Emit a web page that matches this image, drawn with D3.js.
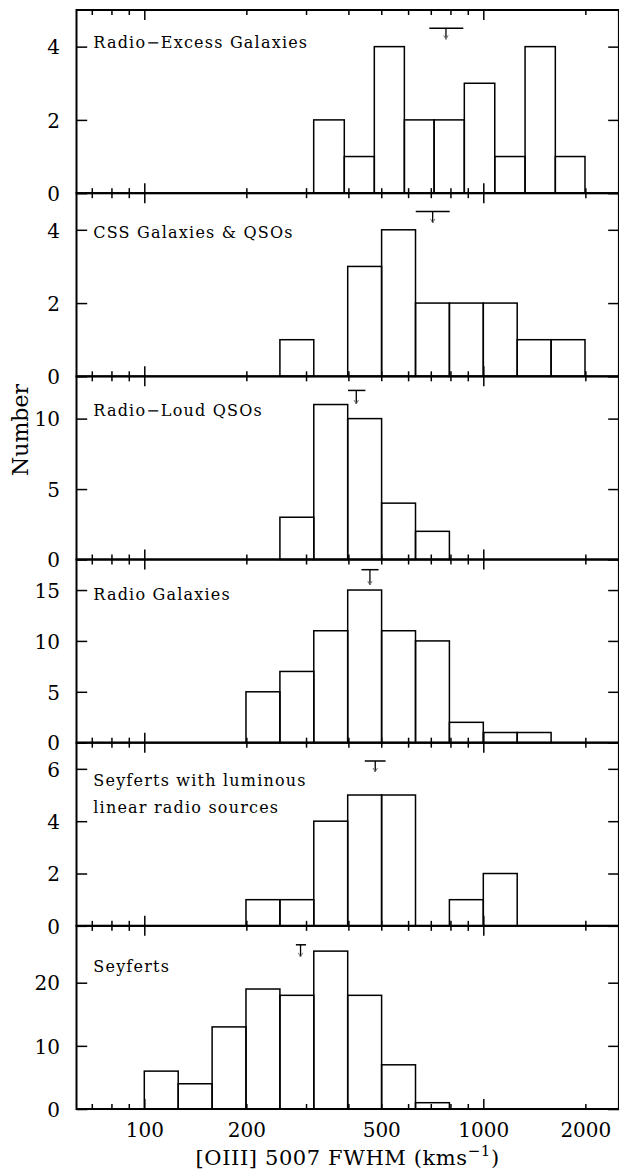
<!DOCTYPE html>
<html>
<head>
<meta charset="utf-8">
<script src="https://cdn.jsdelivr.net/npm/d3@7"></script>
<style>
  body { margin: 0; background: #fff; }
  svg { display: block; }
  text { font-family: "DejaVu Serif", serif; fill: #000; }
</style>
</head>
<body>
<svg id="chart" width="619" height="1172"></svg>
<script>
// Bin edges (km/s): 0.1 dex bins used by most samples
const binEdges = [100, 125.9, 158.5, 199.5, 251.2, 316.2, 398.1, 501.2, 631.0, 794.3, 1000, 1258.9, 1584.9, 1995.3];
// The radio-excess sample uses its own binning
const radioExcessEdges = [316, 389, 477, 585, 716, 879, 1081, 1328, 1631, 1995];

// Counts per bin
const radioExcessCounts = [2, 1, 4, 2, 2, 3, 1, 4, 1];
const cssCounts        = [0, 0, 0, 0, 1, 0, 3, 4, 2, 2, 2, 1, 1];
const rlQsoCounts      = [0, 0, 0, 0, 3, 11, 10, 4, 2, 0, 0, 0, 0];
const radioGalCounts   = [0, 0, 0, 5, 7, 11, 15, 11, 10, 2, 1, 1, 0];
const seyLinearCounts  = [0, 0, 0, 1, 1, 4, 5, 5, 0, 1, 2, 0, 0];
const seyfertCounts    = [6, 4, 13, 19, 18, 25, 18, 7, 1, 0, 0, 0, 0];

const panelTitles = [
  ["Radio\u2212Excess Galaxies"],
  ["CSS Galaxies & QSOs"],
  ["Radio\u2212Loud QSOs"],
  ["Radio Galaxies"],
  ["Seyferts with luminous", "linear radio sources"],
  ["Seyferts"]
];
const yMax = [5, 5, 13, 18, 7, 29];
const yTickValues = [[0, 2, 4], [0, 2, 4], [0, 5, 10], [0, 5, 10, 15], [0, 2, 4, 6], [0, 10, 20]];

// Median FWHM with its range, and the count level where it is marked
const medianFWHM  = [776, 709, 422, 463, 480, 289];
const medianLow   = [693, 632, 399, 437, 447, 280];
const medianHigh  = [873, 796, 449, 491, 515, 300];
const medianLevel = [4.5, 4.5, 12, 17, 6.3, 26];

const xTickLabels = [100, 200, 500, 1000, 2000];
const xMajorTicks = [100, 1000];
const xMinorTicks = [70, 80, 90, 200, 300, 400, 500, 600, 700, 800, 900, 2000];

// Layout
const plotLeft = 76.5, plotRight = 618.9, plotTop = 10, panelH = 183.17;
const titleOffset = [38.3, 45, 39.7, 40.7, 43, 45.7];
const arrowLen = [11, 11.4, 13.6, 15.3, 11, 12];

const panels = [
  { edges: radioExcessEdges, counts: radioExcessCounts },
  { edges: binEdges, counts: cssCounts },
  { edges: binEdges, counts: rlQsoCounts },
  { edges: binEdges, counts: radioGalCounts },
  { edges: binEdges, counts: seyLinearCounts },
  { edges: binEdges, counts: seyfertCounts }
].map((p, i) => ({
  ...p,
  title: panelTitles[i],
  yMax: yMax[i],
  yTicks: yTickValues[i],
  med: medianFWHM[i], lo: medianLow[i], hi: medianHigh[i], level: medianLevel[i]
}));

const svg = d3.select("#chart");
const x = d3.scaleLog().domain([Math.pow(10, 1.8), Math.pow(10, 3.4)]).range([plotLeft, plotRight]);
const W = plotRight - plotLeft;

function styleAxis(g, width) {
  g.select(".domain").remove();
  g.selectAll(".tick line").attr("stroke", "#000").attr("stroke-width", width);
}

panels.forEach((p, i) => {
  const y0 = plotTop + i * panelH;
  const g = svg.append("g").attr("transform", `translate(0,${y0})`);
  const y = d3.scaleLinear().domain([0, p.yMax]).range([panelH, 0]);

  // histogram bars
  const bins = p.counts.map((c, k) => ({ x0: p.edges[k], x1: p.edges[k + 1], c }))
    .filter(b => b.c > 0);
  g.selectAll("rect.bar").data(bins).join("rect")
    .attr("class", "bar")
    .attr("x", d => x(d.x0))
    .attr("width", d => x(d.x1) - x(d.x0))
    .attr("y", d => y(d.c))
    .attr("height", d => y(0) - y(d.c))
    .attr("fill", "none")
    .attr("stroke", "#000")
    .attr("stroke-width", 1.5);

  // x ticks, bottom and top, inside the frame
  [[xMajorTicks, 10], [xMinorTicks, 5]].forEach(([vals, len]) => {
    g.append("g").attr("transform", `translate(0,${panelH})`)
      .call(d3.axisBottom(x).tickValues(vals).tickSizeInner(-len).tickSizeOuter(0).tickFormat(""))
      .call(a => styleAxis(a, 1.5));
    g.append("g")
      .call(d3.axisTop(x).tickValues(vals).tickSizeInner(-len).tickSizeOuter(0).tickFormat(""))
      .call(a => styleAxis(a, 1.5));
  });

  // y ticks, left with labels and right without
  g.append("g").attr("transform", `translate(${plotLeft},0)`)
    .call(d3.axisLeft(y).tickValues(p.yTicks).tickSizeInner(-10.7).tickSizeOuter(0)
      .tickPadding(16.5).tickFormat(d3.format("d")))
    .call(a => styleAxis(a, 1.5))
    .call(a => a.selectAll("text").attr("font-size", 20).attr("dy", "0.36em")
      .attr("font-family", "DejaVu Serif").attr("fill", "#000"));
  g.append("g").attr("transform", `translate(${plotRight},0)`)
    .call(d3.axisRight(y).tickValues(p.yTicks).tickSizeInner(-10.7).tickSizeOuter(0).tickFormat(""))
    .call(a => styleAxis(a, 1.5));

  // frame
  g.append("rect").attr("x", plotLeft).attr("y", 0).attr("width", W).attr("height", panelH)
    .attr("fill", "none").attr("stroke", "#000").attr("stroke-width", 2);

  // panel title
  const t = g.append("text").attr("x", 93.3).attr("y", titleOffset[i])
    .attr("font-size", 16).attr("letter-spacing", 1.2);
  p.title.forEach((line, k) => {
    t.append("tspan").attr("x", 93.3).attr("dy", k === 0 ? 0 : 27.6).text(line);
  });

  // median marker: range bar with a downward arrow
  const my = y(p.level);
  g.append("line").attr("x1", x(p.lo)).attr("x2", x(p.hi)).attr("y1", my).attr("y2", my)
    .attr("stroke", "#000").attr("stroke-width", 1.5);
  const mx = x(p.med), tip = my + arrowLen[i];
  g.append("line").attr("x1", mx).attr("x2", mx).attr("y1", my).attr("y2", tip)
    .attr("stroke", "#000").attr("stroke-width", 1.3);
  g.append("path").attr("d", `M${mx - 2.2},${tip - 4}L${mx},${tip}L${mx + 2.2},${tip - 4}`)
    .attr("fill", "none").attr("stroke", "#777").attr("stroke-width", 1);

  // x tick labels under the last panel
  if (i === panels.length - 1) {
    g.append("g").attr("transform", `translate(0,${panelH})`)
      .call(d3.axisBottom(x).tickValues(xTickLabels).tickSize(0).tickPadding(13.5)
        .tickFormat(d3.format("d")))
      .call(a => a.select(".domain").remove())
      .call(a => a.selectAll("text").attr("font-size", 20)
        .attr("font-family", "DejaVu Serif").attr("fill", "#000"));
  }
});

// axis titles
svg.append("text")
  .attr("transform", "translate(28.3,430) rotate(-90)")
  .attr("text-anchor", "middle")
  .attr("font-size", 22)
  .text("Number");

const xt = svg.append("text")
  .attr("x", (plotLeft + plotRight) / 2).attr("y", 1165)
  .attr("text-anchor", "middle")
  .attr("font-size", 21)
  .attr("letter-spacing", 0.6);
xt.append("tspan").text("[OIII] 5007 FWHM (kms");
xt.append("tspan").attr("font-size", 15).attr("dy", -9).text("\u22121");
xt.append("tspan").attr("dy", 9).text(")");
</script>
</body>
</html>
